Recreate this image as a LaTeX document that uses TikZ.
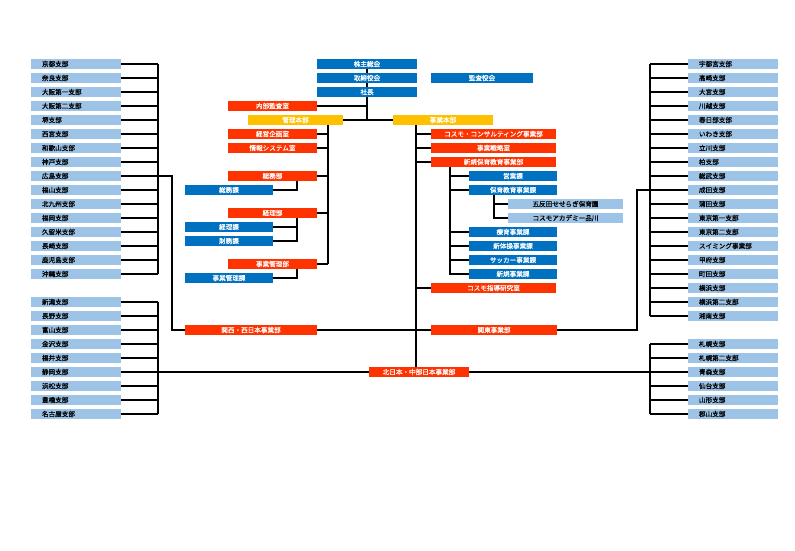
\documentclass[tikz,border=0pt]{standalone}
\usepackage{fontspec}
\newfontfamily\jp[FakeBold=0.7]{Noto Sans CJK JP}
\definecolor{shibublue}{RGB}{157,195,230}
\definecolor{kablue}{RGB}{0,112,192}
\definecolor{bured}{RGB}{255,51,0}
\definecolor{honyellow}{RGB}{255,192,0}
\tikzset{
  box/.style={inner sep=0pt, minimum height=10pt, font=\jp\fontsize{6.6}{7}\selectfont},
  branchbox/.style={box, fill=shibublue, text=black, text width=68pt, inner xsep=11pt, align=left},
  kabox/.style={box, fill=kablue, text=white, minimum width=88pt},
  bubox/.style={box, fill=bured, text=white, minimum width=89pt},
  honbox/.style={box, fill=honyellow, text=white},
  schoolbox/.style={box, fill=shibublue, text=black, minimum width=115pt},
  conn/.style={line width=1.3pt}
}
\begin{document}
\begin{tikzpicture}[x=1pt,y=-1pt]
\useasboundingbox (0,0) rectangle (795,550);

% top of the company
\node[kabox, minimum width=100pt] (kabunushi) at (367,64) {株主総会};
\node[kabox, minimum width=100pt] (torishimari) at (367,78) {取締役会};
\node[kabox, minimum width=100pt] (shacho) at (367,92) {社長};
\node[kabox, minimum width=102pt] (kansayaku) at (482,78) {監査役会};
\node[bubox] (naibu) at (272.5,106) {内部監査室};
\node[honbox, minimum width=95pt] (kanri) at (295.5,120) {管理本部};
\node[honbox, minimum width=100pt] (jigyo) at (443,120) {事業本部};

% kanri side
\node[bubox] (keiei) at (272.5,134) {経営企画室};
\node[bubox] (joho) at (272.5,148) {情報システム室};
\node[bubox] (somu) at (272.5,176) {総務部};
\node[kabox] (somuka) at (229,190) {総務課};
\node[bubox] (keiri) at (272.5,213) {経理部};
\node[kabox] (keirika) at (229,227) {経理課};
\node[kabox] (zaimuka) at (229,241) {財務課};
\node[bubox] (jkanri) at (272.5,264) {事業管理部};
\node[kabox] (jkanrika) at (229,278) {事業管理課};

% jigyo side
\node[bubox, minimum width=125pt] (consul) at (493.5,134) {コスモ・コンサルティング事業部};
\node[bubox, minimum width=125pt] (senryaku) at (493.5,148) {事業戦略室};
\node[bubox, minimum width=125pt] (hoiku) at (493.5,162) {新規保育教育事業部};
\node[kabox] (eigyo) at (513,176) {営業課};
\node[kabox] (hoikuka) at (513,190) {保育教育事業課};
\node[schoolbox] (gotanda) at (565.5,204) {五反田せせらぎ保育園};
\node[schoolbox] (academy) at (565.5,218) {コスモアカデミー品川};
\node[kabox] (ryoiku) at (513,232) {療育事業課};
\node[kabox] (shintaiso) at (513,246) {新体操事業課};
\node[kabox] (soccer) at (513,260) {サッカー事業課};
\node[kabox] (shinki) at (513,274) {新規事業課};
\node[bubox, minimum width=125pt] (shido) at (493.5,288) {コスモ指導研究室};

% regional divisions
\node[bubox, minimum width=132pt] (kansai) at (251,330) {関西・西日本事業部};
\node[bubox, minimum width=126pt] (kanto) at (494,330) {関東事業部};
\node[bubox, minimum width=100pt] (kita) at (419,372) {北日本・中部日本事業部};

% west branches
\node[branchbox] (kyoto) at (76,64) {京都支部};
\node[branchbox] (nara) at (76,78) {奈良支部};
\node[branchbox] (osaka1) at (76,92) {大阪第一支部};
\node[branchbox] (osaka2) at (76,106) {大阪第二支部};
\node[branchbox] (sakai) at (76,120) {堺支部};
\node[branchbox] (nishinomiya) at (76,134) {西宮支部};
\node[branchbox] (wakayama) at (76,148) {和歌山支部};
\node[branchbox] (kobe) at (76,162) {神戸支部};
\node[branchbox] (hiroshima) at (76,176) {広島支部};
\node[branchbox] (fukuyama) at (76,190) {福山支部};
\node[branchbox] (kitakyushu) at (76,204) {北九州支部};
\node[branchbox] (fukuoka) at (76,218) {福岡支部};
\node[branchbox] (kurume) at (76,232) {久留米支部};
\node[branchbox] (nagasaki) at (76,246) {長崎支部};
\node[branchbox] (kagoshima) at (76,260) {鹿児島支部};
\node[branchbox] (okinawa) at (76,274) {沖縄支部};

% chubu branches
\node[branchbox] (niigata) at (76,302) {新潟支部};
\node[branchbox] (nagano) at (76,316) {長野支部};
\node[branchbox] (toyama) at (76,330) {富山支部};
\node[branchbox] (kanazawa) at (76,344) {金沢支部};
\node[branchbox] (fukui) at (76,358) {福井支部};
\node[branchbox] (shizuoka) at (76,372) {静岡支部};
\node[branchbox] (hamamatsu) at (76,386) {浜松支部};
\node[branchbox] (toyohashi) at (76,400) {豊橋支部};
\node[branchbox] (nagoya) at (76,414) {名古屋支部};

% kanto branches
\node[branchbox] (utsunomiya) at (733,64) {宇都宮支部};
\node[branchbox] (takasaki) at (733,78) {高崎支部};
\node[branchbox] (omiya) at (733,92) {大宮支部};
\node[branchbox] (kawagoe) at (733,106) {川越支部};
\node[branchbox] (kasukabe) at (733,120) {春日部支部};
\node[branchbox] (iwaki) at (733,134) {いわき支部};
\node[branchbox] (tachikawa) at (733,148) {立川支部};
\node[branchbox] (kashiwa) at (733,162) {柏支部};
\node[branchbox] (sobu) at (733,176) {総武支部};
\node[branchbox] (narita) at (733,190) {成田支部};
\node[branchbox] (kamata) at (733,204) {蒲田支部};
\node[branchbox] (tokyo1) at (733,218) {東京第一支部};
\node[branchbox] (tokyo2) at (733,232) {東京第二支部};
\node[branchbox] (swimming) at (733,246) {スイミング事業部};
\node[branchbox] (kofu) at (733,260) {甲府支部};
\node[branchbox] (machida) at (733,274) {町田支部};
\node[branchbox] (yokohama) at (733,288) {横浜支部};
\node[branchbox] (yokohama2) at (733,302) {横浜第二支部};
\node[branchbox] (shonan) at (733,316) {湘南支部};

% north branches
\node[branchbox] (sapporo) at (733,344) {札幌支部};
\node[branchbox] (sapporo2) at (733,358) {札幌第二支部};
\node[branchbox] (aomori) at (733,372) {青森支部};
\node[branchbox] (sendai) at (733,386) {仙台支部};
\node[branchbox] (yamagata) at (733,400) {山形支部};
\node[branchbox] (koriyama) at (733,414) {郡山支部};

% bus bars
\coordinate (wbar) at (158,0);
\coordinate (kansaibar) at (172,0);
\coordinate (ebar) at (650,0);
\coordinate (kantobar) at (637,0);
\coordinate (mainbar) at (416,0);
\coordinate (kanribar) at (328,0);
\coordinate (subbar) at (297,0);
\coordinate (hoikubar) at (450,0);
\coordinate (schoolbar) at (494,0);

% top lines
\draw[conn] (kabunushi) -- (torishimari);
\draw[conn] (torishimari) -- (shacho);
\draw[conn] (shacho.south) -- (shacho.south |- kanri.east);
\draw[conn] (naibu.east) -- (naibu.east -| shacho.south);
\draw[conn] (kanri.east) -- (jigyo.west);

% kanri lines
\draw[conn] (kanri.south -| kanribar) -- (jkanri.east -| kanribar);
\draw[conn] (keiei.east) -- (keiei.east -| kanribar);
\draw[conn] (joho.east) -- (joho.east -| kanribar);
\draw[conn] (somu.east) -- (somu.east -| kanribar);
\draw[conn] (keiri.east) -- (keiri.east -| kanribar);
\draw[conn] (jkanri.east) -- (jkanri.east -| kanribar);
\draw[conn] (somu.south -| subbar) |- (somuka.east);
\draw[conn] (keiri.south -| subbar) |- (zaimuka.east);
\draw[conn] (keirika.east) -- (keirika.east -| subbar);
\draw[conn] (jkanri.south -| subbar) |- (jkanrika.east);

% jigyo lines
\draw[conn] (jigyo.south -| mainbar) -- (kita.north -| mainbar);
\draw[conn] (consul.west -| mainbar) -- (consul.west);
\draw[conn] (senryaku.west -| mainbar) -- (senryaku.west);
\draw[conn] (hoiku.west -| mainbar) -- (hoiku.west);
\draw[conn] (shido.west -| mainbar) -- (shido.west);
\draw[conn] (hoiku.south -| hoikubar) |- (shinki.west);
\draw[conn] (eigyo.west -| hoikubar) -- (eigyo.west);
\draw[conn] (hoikuka.west -| hoikubar) -- (hoikuka.west);
\draw[conn] (ryoiku.west -| hoikubar) -- (ryoiku.west);
\draw[conn] (shintaiso.west -| hoikubar) -- (shintaiso.west);
\draw[conn] (soccer.west -| hoikubar) -- (soccer.west);
\draw[conn] (hoikuka.south -| schoolbar) |- (academy.west);
\draw[conn] (gotanda.west -| schoolbar) -- (gotanda.west);

% regional lines
\draw[conn] (kansai.east) -- (kanto.west);
\draw[conn] (hiroshima.east -| wbar) -| (kansai.west -| kansaibar) -- (kansai.west);
\draw[conn] (kanto.east) -| (narita.west -| kantobar) -- (narita.west -| ebar);
\draw[conn] (shizuoka.east -| wbar) -- (kita.west);
\draw[conn] (kita.east) -- (aomori.west -| ebar);

% west and chubu brackets
\draw[conn] (kyoto.east -| wbar) -- (okinawa.east -| wbar);
\foreach \b in {kyoto,nara,osaka1,osaka2,sakai,nishinomiya,wakayama,kobe,hiroshima,fukuyama,kitakyushu,fukuoka,kurume,nagasaki,kagoshima,okinawa,niigata,nagano,toyama,kanazawa,fukui,shizuoka,hamamatsu,toyohashi,nagoya}
  \draw[conn] (\b.east) -- (\b.east -| wbar);
\draw[conn] (niigata.east -| wbar) -- (nagoya.east -| wbar);

% kanto and north brackets
\draw[conn] (utsunomiya.west -| ebar) -- (shonan.west -| ebar);
\draw[conn] (sapporo.west -| ebar) -- (koriyama.west -| ebar);
\foreach \b in {utsunomiya,takasaki,omiya,kawagoe,kasukabe,iwaki,tachikawa,kashiwa,sobu,narita,kamata,tokyo1,tokyo2,swimming,kofu,machida,yokohama,yokohama2,shonan,sapporo,sapporo2,aomori,sendai,yamagata,koriyama}
  \draw[conn] (\b.west) -- (\b.west -| ebar);
\end{tikzpicture}
\end{document}
